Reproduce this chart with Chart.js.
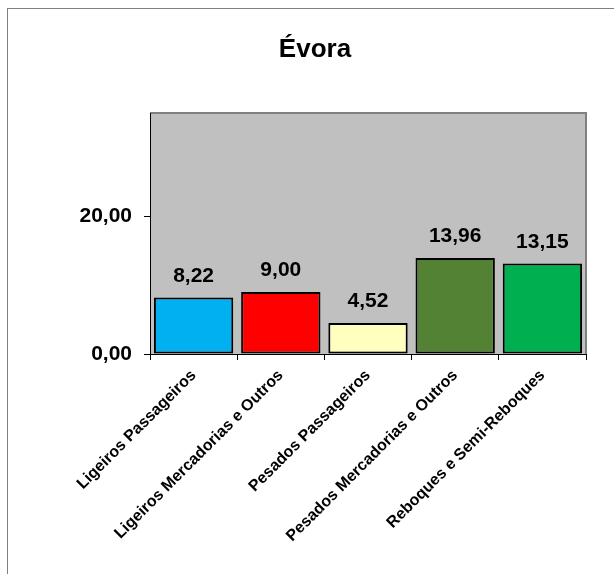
<!DOCTYPE html>
<html lang="pt">

<head>
  <meta charset="UTF-8">
  <title>Évora</title>
  <script src="https://cdn.jsdelivr.net/npm/chart.js"></script>
  <style>
    body { margin: 0; background: #fff; overflow: hidden; }
    #frame { position: absolute; left: 7px; top: 8px; width: 640px; height: 600px;
      border-top: 1px solid #808080; border-left: 1px solid #808080; }
    #wrap { position: absolute; left: 0; top: 0; width: 614px; height: 574px; }
  </style>
</head>

<body>
  <div id="frame"></div>
  <div id="wrap"><canvas id="chart" width="614" height="574"></canvas></div>

  <script>
    // data
    const categories = [
      "Ligeiros Passageiros",
      "Ligeiros Mercadorias e Outros",
      "Pesados Passageiros",
      "Pesados Mercadorias e Outros",
      "Reboques e Semi-Reboques"
    ];
    const values = [8.22, 9.00, 4.52, 13.96, 13.15];
    const barColors = ["#00B0F0", "#FF0000", "#FFFFC0", "#548235", "#00B050"];
    const yTicks = [0, 20];
    const yMax = 35;
    const titleText = "Évora";

    const fontFamily = "Arial, 'Liberation Sans', sans-serif";
    const fmt = v => v.toFixed(2).replace(".", ",");

    // grey plot area with its frame, plus the title (not centred on the canvas in the original)
    const plotArea = {
      id: "plotArea",
      beforeDraw(chart) {
        const { ctx, chartArea: a } = chart;
        ctx.save();
        ctx.fillStyle = "#C0C0C0";
        ctx.fillRect(a.left, a.top, a.right - a.left, a.bottom - a.top);
        ctx.strokeStyle = "#808080";
        ctx.lineWidth = 2;
        ctx.beginPath();
        ctx.moveTo(a.left, a.top);
        ctx.lineTo(a.right, a.top);
        ctx.lineTo(a.right, a.bottom);
        ctx.stroke();

        ctx.font = "bold 26px " + fontFamily;
        ctx.fillStyle = "#000";
        ctx.textAlign = "center";
        ctx.textBaseline = "alphabetic";
        ctx.fillText(titleText, 315, 57);
        ctx.restore();
      }
    };

    // value labels above bars
    const valueLabels = {
      id: "valueLabels",
      afterDatasetsDraw(chart) {
        const { ctx } = chart;
        const meta = chart.getDatasetMeta(0);
        ctx.save();
        ctx.font = "bold 21px " + fontFamily;
        ctx.fillStyle = "#000";
        ctx.textAlign = "center";
        ctx.textBaseline = "bottom";
        meta.data.forEach((bar, i) => {
          ctx.fillText(fmt(values[i]), bar.x, bar.y - 11);
        });
        ctx.restore();
      }
    };

    new Chart(document.getElementById("chart"), {
      type: "bar",
      data: {
        labels: categories,
        datasets: [{
          data: values,
          backgroundColor: barColors,
          borderColor: "#000",
          borderWidth: 2,
          borderSkipped: false,
          categoryPercentage: 0.91,
          barPercentage: 1
        }]
      },
      options: {
        responsive: false,
        animation: false,
        layout: { padding: { left: 0, right: 28, top: 113, bottom: 0 } },
        plugins: {
          legend: { display: false },
          tooltip: { enabled: false },
          title: { display: false }
        },
        scales: {
          x: {
            afterFit(scale) { scale.height = 220; },
            border: { color: "#000", width: 1 },
            grid: { offset: true, drawOnChartArea: false, tickLength: 6, color: "#000" },
            ticks: {
              color: "#000",
              maxRotation: 45,
              minRotation: 45,
              autoSkip: false,
              padding: 6,
              font: { family: fontFamily, size: 16, weight: "bold" }
            }
          },
          y: {
            min: 0,
            max: yMax,
            afterFit(scale) { scale.width = 150; },
            afterBuildTicks(scale) { scale.ticks = yTicks.map(v => ({ value: v })); },
            border: { color: "#000", width: 1 },
            grid: { drawOnChartArea: false, tickLength: 6, color: "#000" },
            ticks: {
              color: "#000",
              padding: 12,
              callback: v => fmt(v),
              font: { family: fontFamily, size: 21, weight: "bold" }
            }
          }
        }
      },
      plugins: [plotArea, valueLabels]
    });
  </script>
</body>

</html>
